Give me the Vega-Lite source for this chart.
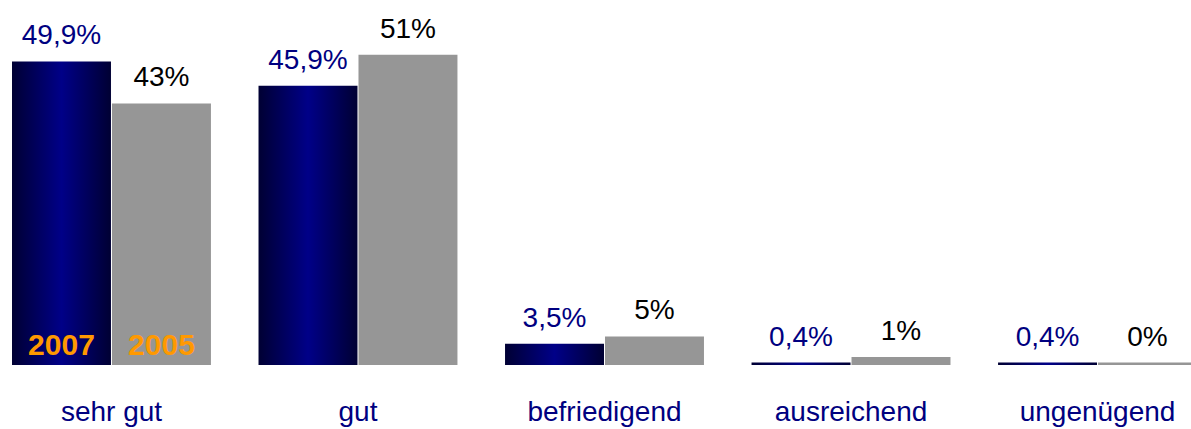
{
  "$schema": "https://vega.github.io/schema/vega-lite/v6.json",
  "width": 1191,
  "height": 365,
  "autosize": {"type": "none"},
  "padding": {"left": 0, "top": 0, "right": 0, "bottom": 64},
  "background": "white",
  "config": {"view": {"stroke": null}, "font": "Liberation Sans"},
  "data": {
    "values": [
      {"cat": "sehr gut", "year": "2007", "value": 49.9, "label": "49,9%"},
      {"cat": "sehr gut", "year": "2005", "value": 43, "label": "43%"},
      {"cat": "gut", "year": "2007", "value": 45.9, "label": "45,9%"},
      {"cat": "gut", "year": "2005", "value": 51, "label": "51%"},
      {"cat": "befriedigend", "year": "2007", "value": 3.5, "label": "3,5%"},
      {"cat": "befriedigend", "year": "2005", "value": 4.7, "label": "5%"},
      {"cat": "ausreichend", "year": "2007", "value": 0.4, "label": "0,4%"},
      {"cat": "ausreichend", "year": "2005", "value": 1.3, "label": "1%"},
      {"cat": "ungenügend", "year": "2007", "value": 0.4, "label": "0,4%"},
      {"cat": "ungenügend", "year": "2005", "value": 0.4, "label": "0%"}
    ]
  },
  "encoding": {
    "x": {
      "field": "cat",
      "type": "nominal",
      "sort": ["sehr gut", "gut", "befriedigend", "ausreichend", "ungenügend"],
      "scale": {"range": [0, 1209], "paddingInner": 0.193, "paddingOuter": 0.0487},
      "axis": null
    }
  },
  "layer": [
    {
      "transform": [{"filter": "datum.year == '2007'"}],
      "mark": {
        "type": "bar",
        "color": {
          "gradient": "linear",
          "x1": 0, "x2": 1, "y1": 0, "y2": 0,
          "stops": [
            {"offset": 0, "color": "#000033"},
            {"offset": 0.5, "color": "#000088"},
            {"offset": 1, "color": "#000033"}
          ]
        }
      },
      "encoding": {
        "xOffset": {"datum": "2007", "scale": {"domain": ["2007", "2005"], "paddingInner": 0.01, "paddingOuter": 0}},
        "y": {"field": "value", "type": "quantitative", "scale": {"domain": [0, 60], "nice": false}, "axis": null}
      }
    },
    {
      "transform": [{"filter": "datum.year == '2005'"}],
      "mark": {"type": "bar", "color": "#969696"},
      "encoding": {
        "xOffset": {"datum": "2005"},
        "y": {"field": "value", "type": "quantitative"}
      }
    },
    {
      "mark": {"type": "text", "baseline": "alphabetic", "dy": -17, "fontSize": 28},
      "encoding": {
        "xOffset": {"field": "year"},
        "y": {"field": "value", "type": "quantitative"},
        "text": {"field": "label"},
        "color": {"field": "year", "type": "nominal", "scale": {"domain": ["2007", "2005"], "range": ["#000080", "#000000"]}, "legend": null}
      }
    },
    {
      "transform": [{"filter": "datum.cat == 'sehr gut'"}],
      "mark": {"type": "text", "baseline": "alphabetic", "dy": -10, "fontSize": 30, "fontWeight": "bold", "color": "#FF9900"},
      "encoding": {
        "xOffset": {"field": "year"},
        "y": {"datum": 0},
        "text": {"field": "year"}
      }
    },
    {
      "transform": [{"filter": "datum.year == '2007'"}],
      "mark": {"type": "text", "baseline": "alphabetic", "dy": 56, "fontSize": 28, "color": "#000080"},
      "encoding": {
        "y": {"datum": 0},
        "text": {"field": "cat"}
      }
    }
  ]
}
